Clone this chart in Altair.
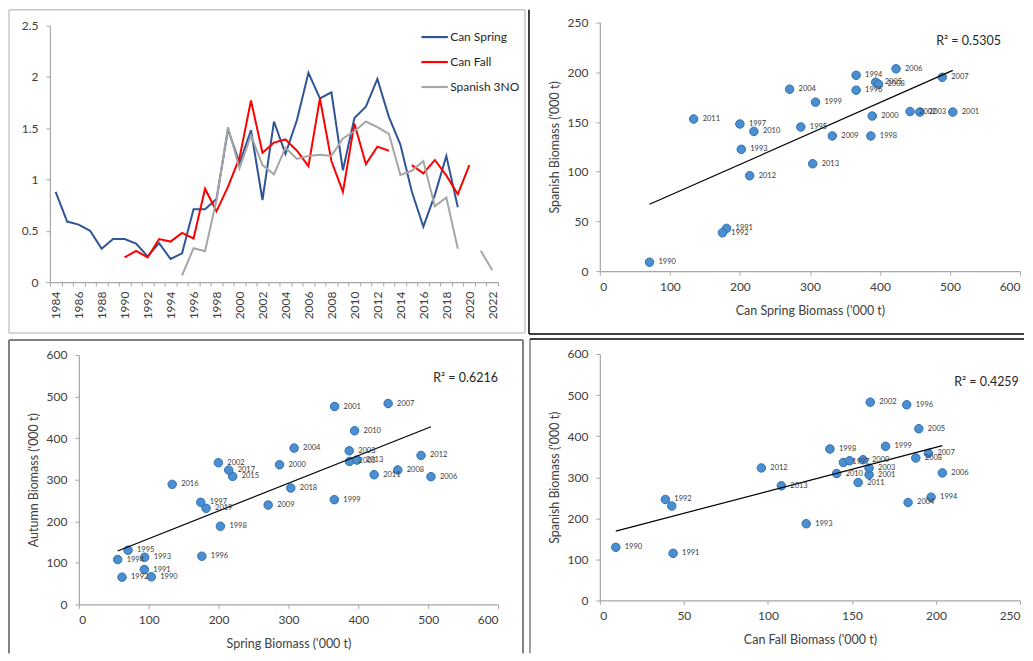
import altair as alt
import pandas as pd

FONT = "Lato"
TXT = "#404040"

# ---------------- Top-left: time series ----------------
years = list(range(1984, 2023))
can_spring = [0.88, 0.59, 0.56, 0.50, 0.325, 0.42, 0.42, 0.375, 0.25, 0.38, 0.225, 0.28,
              0.71, 0.71, 0.81, 1.49, 1.16, 1.48, 0.80, 1.565, 1.25, 1.58, 2.04, 1.79,
              1.85, 1.09, 1.60, 1.71, 1.98, 1.61, 1.34, 0.88, 0.54, 0.85, 1.23, 0.73,
              None, None, None]
can_fall = [None, None, None, None, None, None,
            0.24, 0.305, 0.24, 0.42, 0.395, 0.48, 0.425, 0.91, 0.69, 0.93, 1.21, 1.77,
            1.26, 1.36, 1.39, 1.28, 1.13, 1.79, 1.18, 0.88, 1.545, 1.15, 1.32, 1.28,
            None, 1.14, 1.06, 1.19, 1.04, 0.855, 1.14, None, None]
spanish_3no = [None] * 11 + [
    0.065, 0.33, 0.30, 0.80, 1.51, 1.11, 1.43, 1.14, 1.05, 1.31, 1.20, 1.23, 1.24,
    1.23, 1.40, 1.47, 1.565, 1.51, 1.445, 1.045, 1.085, 1.18, 0.74, 0.825, 0.325,
    None, 0.305, 0.115]
series_names = ["Can Spring", "Can Fall", "Spanish 3NO"]
series_colors = ["#2f5597", "#ff0000", "#a6a6a6"]

# ---------------- Top-right: Can Spring vs Spanish ----------------
tr_years = ["1990", "1991", "1992", "1993", "1994", "1995", "1996", "1997", "1998", "1999",
            "2000", "2001", "2002", "2003", "2004", "2005", "2006", "2007", "2008", "2009",
            "2010", "2011", "2012", "2013"]
tr_can_spring = [71, 181, 175, 202, 366, 287, 366, 200, 387, 308, 389, 504, 443, 457, 271,
                 394, 423, 489, 398, 332, 220, 134, 214, 304]
tr_spanish = [9, 43, 38.5, 122.5, 197, 145, 182, 148, 136, 170, 156, 160, 160.5, 160, 183,
              190, 203.5, 195, 188, 136, 140.5, 153, 96, 108]

# ---------------- Bottom-left: Spring vs Autumn ----------------
bl_years = ["1990", "1991", "1992", "1993", "1994", "1995", "1996", "1997", "1998", "1999",
            "2000", "2001", "2002", "2003", "2004", "2005", "2006", "2007", "2008", "2009",
            "2010", "2011", "2012", "2013", "2015", "2016", "2017", "2018", "2019"]
bl_spring = [103.7, 93.7, 61.8, 94.2, 55.6, 70.4, 176, 174.5, 202.6, 365.7, 287.2, 366.1,
             199.7, 387, 308.1, 387.5, 504, 442.7, 456.5, 271, 394.7, 422.7, 489.8, 398,
             220.2, 133.6, 214.5, 303.4, 182.1]
bl_autumn = [66.4, 84, 65.6, 113.6, 108, 130.4, 116, 245.6, 188, 252, 336, 476, 340.8,
             369.6, 376, 344, 307.2, 483.2, 323.2, 239.2, 417.6, 312, 358.4, 347.2, 308,
             288.8, 323.2, 280, 231.2]

# ---------------- Bottom-right: Can Fall vs Spanish ----------------
br_years = ["1990", "1991", "1992", "", "1993", "1994", "1996", "1997", "1998", "1999",
            "2000", "2001", "2002", "2003", "2004", "2005", "2006", "2007", "2008", "",
            "2010", "2011", "2012", "2013"]
br_can_fall = [9.5, 43.6, 39, 42.8, 122.8, 197.1, 182.6, 144.9, 136.9, 170, 156.6, 160.2,
               160.9, 160.2, 183.4, 189.8, 203.8, 195.5, 188, 148.6, 140.9, 153.7, 96.1, 108]
br_spanish = [129.4, 114.8, 245.8, 230, 186.8, 251.5, 476.3, 336, 368.7, 375.2, 342.5, 306,
              482.7, 322, 238.5, 418, 310.5, 358.2, 346.9, 340, 309, 287, 322.6, 279]

ONE = pd.DataFrame({"a": [0]})


def rule(x1, y1, x2, y2, color, width):
    return alt.Chart(ONE).mark_rule(color=color, strokeWidth=width).encode(
        x=alt.value(x1), x2=alt.value(x2), y=alt.value(y1), y2=alt.value(y2))


def box(left, top, right, bottom, color, width, sides=("l", "t", "r", "b"), colors=None):
    colors = colors or {}
    out = []
    if "l" in sides:
        out.append(rule(left, top, left, bottom, colors.get("l", color), width))
    if "t" in sides:
        out.append(rule(left, top, right, top, colors.get("t", color), width))
    if "r" in sides:
        out.append(rule(right, top, right, bottom, colors.get("r", color), width))
    if "b" in sides:
        out.append(rule(left, bottom, right, bottom, colors.get("b", color), width))
    return out


# ---- line chart data (split into contiguous segments) ----
rows = []
for name, vals in zip(series_names, [can_spring, can_fall, spanish_3no]):
    seg = 0
    prev_none = True
    for yr, v in zip(years, vals):
        if v is None:
            if not prev_none:
                seg += 1
            prev_none = True
            continue
        prev_none = False
        rows.append({"year": yr, "value": v, "series": name, "seg": f"{name}-{seg}"})
df_line = pd.DataFrame(rows)

TL_W, TL_H = 449, 260
tl_lines = alt.Chart(df_line).mark_line(strokeWidth=2).encode(
    x=alt.X("year:O",
            scale=alt.Scale(type="band", domain=years, paddingInner=0, paddingOuter=0),
            bandPosition=0.5,
            axis=alt.Axis(title=None, labelAngle=270, tickBand="extent", labelPadding=5,
                          labelExpr="datum.value % 2 == 0 ? datum.label : ''")),
    y=alt.Y("value:Q", scale=alt.Scale(domain=[0, 2.5], range=[260, 3], nice=False),
            axis=alt.Axis(title=None, values=[0, 0.5, 1, 1.5, 2, 2.5], format="~g")),
    color=alt.Color("series:N",
                    scale=alt.Scale(domain=series_names, range=series_colors),
                    legend=alt.Legend(title=None, orient="none", legendX=371, legendY=0,
                                      direction="vertical", symbolType="stroke",
                                      symbolStrokeWidth=2.2, symbolSize=700,
                                      labelFont=FONT, labelFontSize=12, labelColor="#262626",
                                      rowPadding=4, labelOffset=1)),
    detail="seg:N",
)
tl = alt.layer(tl_lines, *box(-41, -13, 476, 311, "#c8c8c8", 1.5)).properties(
    width=TL_W, height=TL_H)


def scatter(xs, ys, labs, xdom, xvals, ydom, yvals, xtitle, ytitle, width, height,
            xrange, yrange, yoffset, r2, r2x, r2y, borders):
    df = pd.DataFrame({"x": xs, "y": ys, "lab": labs})
    xenc = alt.X("x:Q", scale=alt.Scale(domain=xdom, range=xrange, nice=False, zero=False),
                 axis=alt.Axis(values=xvals, title=xtitle))
    yenc = alt.Y("y:Q", scale=alt.Scale(domain=ydom, range=yrange, nice=False, zero=False),
                 axis=alt.Axis(values=yvals, title=ytitle, offset=yoffset))
    base = alt.Chart(df)
    pts = base.mark_circle(size=72, opacity=1, fill="#4b8fd1", stroke="#2d6fb3",
                           strokeWidth=1).encode(x=xenc, y=yenc)
    reg = base.transform_regression("x", "y").mark_line(
        color="black", strokeWidth=1.2).encode(x=xenc, y=yenc)
    labels = base.mark_text(align="left", baseline="middle", dx=9, fontSize=7.5, font=FONT,
                            color="#3a3a3a").encode(x=xenc, y=yenc, text="lab:N")
    r2t = alt.Chart(ONE).mark_text(align="left", baseline="middle", fontSize=12.5, font=FONT,
                                   color="#262626").encode(
        x=alt.value(r2x), y=alt.value(r2y), text=alt.value(r2))
    return alt.layer(pts, reg, labels, r2t, *borders).properties(width=width, height=height)


tr = scatter(tr_can_spring, tr_spanish, tr_years, [0, 600], [0, 100, 200, 300, 400, 500, 600],
             [0, 250], [0, 50, 100, 150, 200, 250], "Can Spring Biomass ('000 t)",
             "Spanish Biomass ('000 t)", 421, 249, [0, 421], [249, 0], 0,
             "R² = 0.5305", 337, 18,
             box(-71, -13, 425, 312, "black", 1.5, sides=("l", "b")))

bl = scatter(bl_spring, bl_autumn, bl_years, [0, 600], [0, 100, 200, 300, 400, 500, 600],
             [0, 600], [0, 100, 200, 300, 400, 500, 600], "Spring Biomass ('000 t)",
             "Autumn Biomass ('000 t)", 449, 251, [29, 449], [251, 1], -29,
             "R² = 0.6216", 384, 24,
             box(-41, -14, 474, 300, "#808080", 2, sides=("l", "t", "r")))

br = scatter(br_can_fall, br_spanish, br_years, [0, 250], [0, 50, 100, 150, 200, 250],
             [0, 600], [0, 100, 200, 300, 400, 500, 600], "Can Fall Biomass ('000 t)",
             "Spanish Biomass ('000 t)", 421, 247, [0, 421], [247, 0], 0,
             "R² = 0.4259", 355, 28,
             box(-70, -15, 425, 300, "#808080", 1.5, sides=("l", "t"),
                 colors={"t": "black"}))

chart = alt.concat(tl, tr, bl, br, columns=2, spacing={"row": 72, "column": 102},
                   bounds="flush", align="each").properties(padding=0).configure_view(
    stroke=None
).configure_axis(
    domainColor="#a6a6a6", tickColor="#a6a6a6", tickSize=4, domainWidth=1.2,
    labelFont=FONT, labelFontSize=12, labelColor=TXT,
    titleFont=FONT, titleFontSize=12.5, titleFontWeight="normal", titleColor=TXT, grid=False
).configure_axisX(labelPadding=6, titlePadding=12).configure_axisY(
    labelPadding=8, titlePadding=6)

chart.save("out.html", embed_options={"renderer": "svg", "actions": False})
